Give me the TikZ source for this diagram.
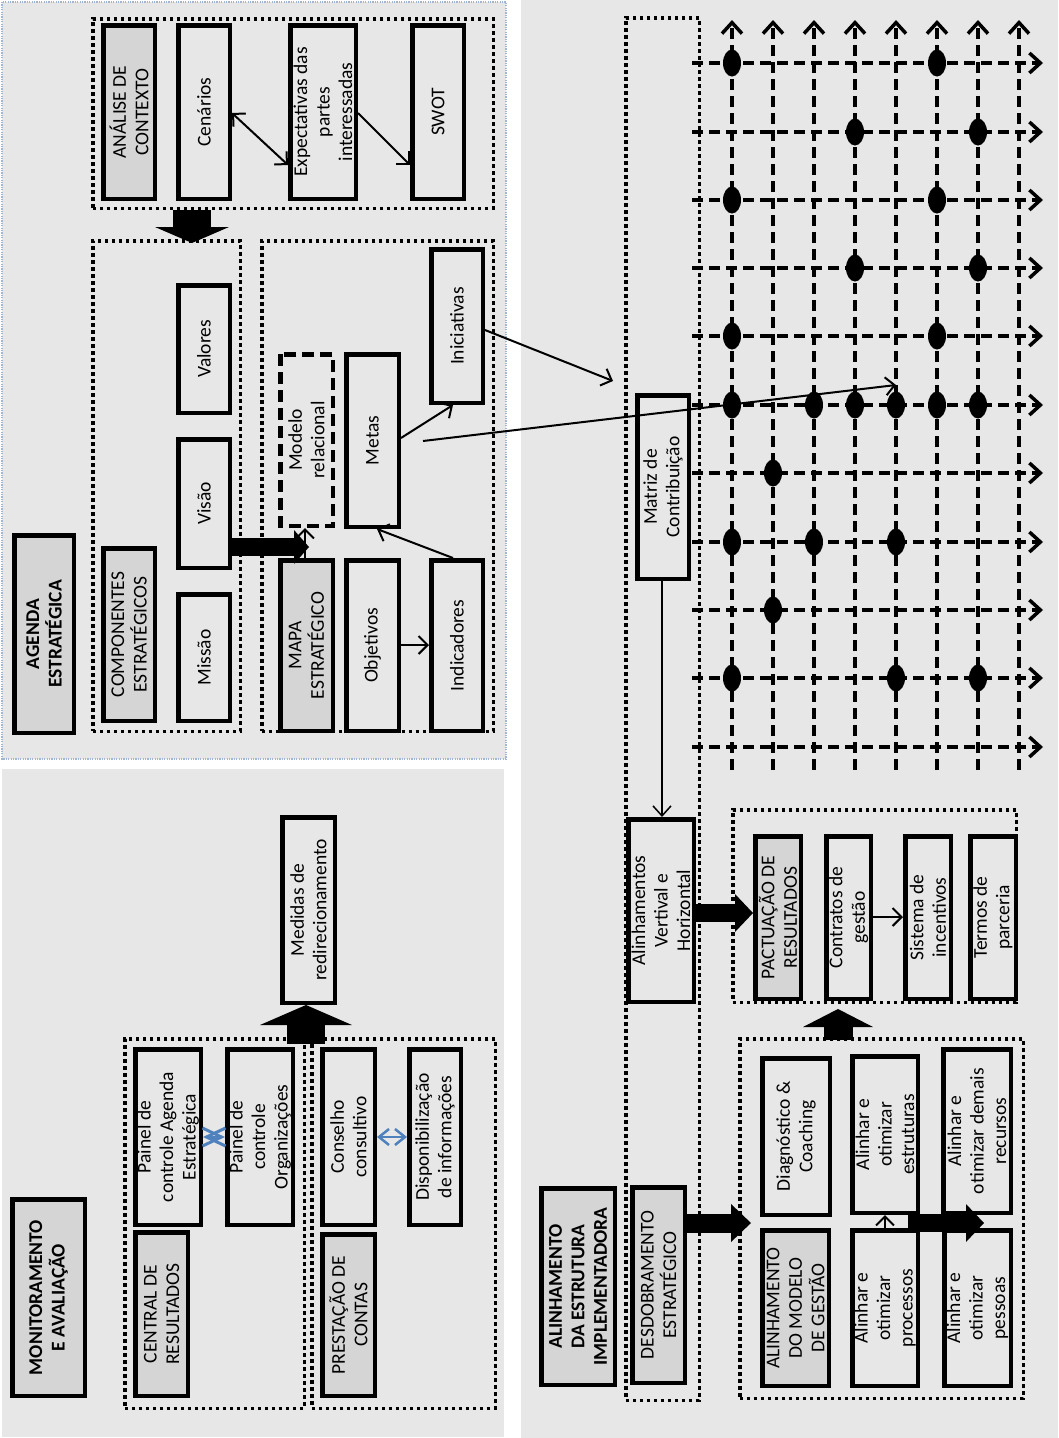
\documentclass[tikz,border=0pt]{standalone}
\usepackage{fontspec}
\setmainfont{Carlito}
\usetikzlibrary{arrows.meta,calc}
\definecolor{bgc}{RGB}{231,231,231}
\definecolor{boxg}{RGB}{213,213,213}
\definecolor{pblue}{RGB}{160,182,212}
\definecolor{arblue}{RGB}{79,129,189}
\newcommand\fs{\fontsize{19.5}{22.5}\selectfont}
\newcommand\mkbox[7]{\node[#1, minimum width={(#6-#4-4.5)*1pt}, minimum height={(#5-#3-4.5)*1pt}] (#2) at ({(#3+#5)/2},{(#4+#6)/2}) {#7};}
\newcommand\mkgrp[5]{\node[grp, minimum width={(#4-#2-3.5)*1pt}, minimum height={(#5-#3-3.5)*1pt}] (#1) at ({(#2+#4)/2},{(#3+#5)/2}) {};}
\tikzset{
  bx/.style={draw, line width=4.5pt, rotate=90, align=center, inner sep=0pt, font=\fs},
  gbx/.style={bx, fill=boxg},
  bbx/.style={gbx, font=\fs\bfseries},
  dbx/.style={bx, dash pattern=on 12pt off 6pt},
  grp/.style={draw, line width=3.5pt, dash pattern=on 3.5pt off 3.5pt, inner sep=0pt},
  thinar/.style={line width=2pt, -{Straight Barb[length=9pt,width=18pt]}},
  thinboth/.style={line width=2pt, {Straight Barb[length=9pt,width=18pt]}-{Straight Barb[length=9pt,width=18pt]}},
  gridl/.style={line width=3.5pt, dash pattern=on 11pt off 6pt, -{Straight Barb[length=11pt,width=20pt]}},
  bluear/.style={draw=arblue, line width=2.5pt, {Straight Barb[length=10pt,width=16pt]}-{Straight Barb[length=10pt,width=16pt]}},
  bluex/.style={draw=arblue, line width=3pt, {Straight Barb[length=19pt,width=18pt]}-{Straight Barb[length=19pt,width=18pt]}},
}
\begin{document}
\begin{tikzpicture}[x=1pt,y=-1pt]
\useasboundingbox (0,0) rectangle (1058,1438);
\fill[white] (0,0) rectangle (1058,1438);
% panels
\fill[bgc] (2,2) rectangle (506,759);
\draw[pblue, line width=1.2pt, dash pattern=on 1.2pt off 1.2pt] (2,2) rectangle (506,759);
\fill[bgc] (2,769) rectangle (504,1437);
\fill[bgc] (521,0) rectangle (1058,1438);

% ================= AGENDA ESTRATEGICA =================
\mkgrp{grpAC}{91}{17}{495}{210}
\mkgrp{grpCE}{91}{239}{242}{733}
\mkgrp{grpMapa}{260}{239}{495}{733}
\mkbox{gbx}{ac}{101}{23}{157}{201}{ANÁLISE DE\\CONTEXTO}
\mkbox{bx}{cen}{176}{23}{232}{201}{Cenários}
\mkbox{bx}{expc}{288}{23}{358}{201}{Expectativas das\\partes\\interessadas}
\mkbox{bx}{swot}{410}{23}{466}{201}{SWOT}
\mkbox{bx}{valores}{176}{283}{232}{415}{Valores}
\mkbox{bx}{visao}{176}{437}{232}{570}{Visão}
\mkbox{bx}{missao}{176}{592}{232}{723}{Missão}
\mkbox{gbx}{ce}{101}{546}{157}{723}{COMPONENTES\\ESTRATÉGICOS}
\mkbox{bbx}{agenda}{12}{533}{76}{735}{AGENDA\\ESTRATÉGICA}
\mkbox{dbx}{modelo}{278}{352}{335}{528}{Modelo\\relacional}
\mkbox{bx}{metas}{344}{352}{401}{529}{Metas}
\mkbox{bx}{inic}{429}{247}{485}{405}{Iniciativas}
\mkbox{gbx}{mapa}{278}{558}{335}{733}{MAPA\\ESTRATÉGICO}
\mkbox{bx}{obj}{344}{558}{401}{733}{Objetivos}
\mkbox{bx}{ind}{429}{558}{485}{733}{Indicadores}

\draw[thinboth] (cen.south |- 0,113) -- (expc.north |- 0,165);
\draw[thinar] (expc.south |- 0,113) -- (swot.north |- 0,165);
\draw[thinar] (obj.south |- 0,645) -- (ind.north |- 0,645);
\draw[thinar] (ind.east -| 453,0) -- (metas.west -| 377,0);
\draw[thinar] (metas.south |- 0,438) -- (inic.west -| 453,0);
\draw[thinar] (mapa.east -| 305,0) -- (modelo.west -| 305,0);
\coordinate (acTip) at (192,243);
\draw[line width=38pt, -{Triangle[length=16pt,width=74pt,line width=0pt]}] (grpAC.south -| 192,0) -- (acTip);
\coordinate (vTip) at (309,547);
\draw[line width=18pt, -{Triangle[length=15pt,width=34pt,line width=0pt]}] (visao.south |- 0,547) -- (vTip);

% ================= MONITORAMENTO =================
\mkbox{bbx}{mon}{10}{1197}{87}{1398}{MONITORAMENTO\\E AVALIAÇÃO}
\mkgrp{grpCR}{123}{1037}{306}{1410}
\mkgrp{grpPC}{310}{1037}{497}{1410}
\mkbox{bx}{painelAE}{133}{1047}{203}{1227}{Painel de\\controle Agenda\\Estratégica}
\mkbox{gbx}{central}{133}{1230}{190}{1398}{CENTRAL DE\\RESULTADOS}
\mkbox{bx}{painelOrg}{225}{1047}{295}{1227}{Painel de\\controle\\Organizações}
\mkbox{bx}{conselho}{320}{1047}{377}{1227}{Conselho\\consultivo}
\mkbox{gbx}{prest}{320}{1232}{377}{1398}{PRESTAÇÃO DE\\CONTAS}
\mkbox{bx}{disp}{407}{1047}{463}{1227}{Disponibilização\\de informações}
\mkbox{bx}{medidas}{280}{815}{337}{1005}{Medidas de\\redirecionamento}
\draw[bluex] (painelAE.south |- 0,1137) -- (painelOrg.north |- 0,1137);
\draw[bluear] (conselho.south |- 0,1137) -- (disp.north |- 0,1137);
\coordinate (monStart) at (306,1044);
\draw[line width=38pt, -{Triangle[length=20pt,width=92pt,line width=0pt]}] (monStart) -- (medidas.west -| 306,0);

% ================= ALINHAMENTO =================
\mkgrp{grpMat}{624}{16}{701}{1402}
% grid
\foreach \yy in {63,132,200,268,336,405,473,542,610,678,747}{
  \coordinate (ha) at (692,\yy);
  \coordinate (hb) at (1043,\yy);
  \draw[gridl] (ha) -- (hb);
}
\foreach \xx in {732,773,814,855,896,937,978,1019}{
  \coordinate (va) at (\xx,770);
  \coordinate (vb) at (\xx,20);
  \draw[gridl] (va) -- (vb);
}
\foreach \p in {(732,63),(937,63),(855,132),(978,132),(732,200),(937,200),
  (855,268),(978,268),(732,336),(937,336),
  (732,405),(814,405),(855,405),(896,405),(937,405),(978,405),
  (773,473),(732,542),(814,542),(896,542),(773,610),(732,678),(896,678),(978,678)}
  \fill \p ellipse (9 and 13.5);

\mkbox{bx}{matriz}{635}{393}{691}{581}{Matriz de\\Contribuição}
\mkbox{bx}{alin}{626}{817}{696}{1004}{Alinhamentos\\Vertival e\\Horizontal}
\mkbox{gbx}{desd}{630}{1185}{687}{1385}{DESDOBRAMENTO\\ESTRATÉGICO}
\mkbox{bbx}{aei}{539}{1186}{617}{1387}{ALINHAMENTO\\DA ESTRUTURA\\IMPLEMENTADORA}
\mkgrp{grpPact}{731}{808}{1018}{1004}
\mkbox{gbx}{pact}{753}{834}{803}{1001}{PACTUAÇÃO DE\\RESULTADOS}
\mkbox{bx}{contr}{824}{834}{873}{1001}{Contratos de\\gestão}
\mkbox{bx}{sist}{903}{834}{953}{1001}{Sistema de\\incentivos}
\mkbox{bx}{termos}{968}{834}{1018}{1001}{Termos de\\parceria}
\mkgrp{grpAlin}{738}{1037}{1025}{1400}
\mkbox{bx}{diag}{760}{1056}{832}{1217}{Diagnóstico \&\\Coaching}
\mkbox{gbx}{amg}{760}{1228}{831}{1388}{ALINHAMENTO\\DO MODELO\\DE GESTÃO}
\mkbox{bx}{estr}{850}{1054}{920}{1215}{Alinhar e\\otimizar\\estruturas}
\mkbox{bx}{proc}{850}{1228}{920}{1388}{Alinhar e\\otimizar\\processos}
\mkbox{bx}{demais}{941}{1047}{1013}{1215}{Alinhar e\\otimizar demais\\recursos}
\mkbox{bx}{pessoas}{942}{1228}{1013}{1388}{Alinhar e\\otimizar\\pessoas}

% connectors
\coordinate (iniTip) at (613,381);
\draw[thinar] (inic.south |- 0,330) -- (iniTip);
\coordinate (metStart) at (423,441);
\coordinate (metTip) at (896,385);
\draw[thinar] (metStart) -- (metTip);
\draw[line width=1.5pt, -{Straight Barb[length=10pt,width=18pt]}] (matriz.west -| 662,0) -- (alin.east -| 662,0);
\draw[line width=18pt, -{Triangle[length=18pt,width=38pt,line width=0pt]}] (alin.south |- 0,913) -- (pact.north |- 0,913);
\coordinate (desdTip) at (751,1223);
\draw[line width=19pt, -{Triangle[length=20pt,width=38pt,line width=0pt]}] (desd.south |- 0,1223) -- (desdTip);
\draw[thinar] (contr.south |- 0,917) -- (sist.north |- 0,917);
\coordinate (upA) at (838,1040);
\coordinate (upB) at (838,1009);
\draw[line width=29pt, -{Triangle[length=18pt,width=70pt,line width=0pt]}] (upA) -- (upB);
\draw[thinar] (proc.east -| 885,0) -- (estr.west -| 885,0);
\coordinate (rA) at (908,1223);
\coordinate (rB) at (984,1223);
\draw[line width=18pt, -{Triangle[length=18pt,width=38pt,line width=0pt]}] (rA) -- (rB);
\end{tikzpicture}
\end{document}
